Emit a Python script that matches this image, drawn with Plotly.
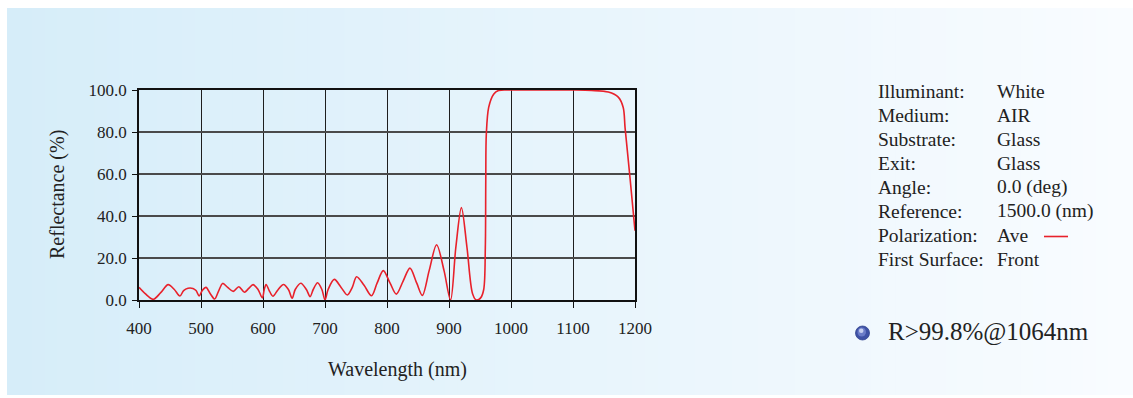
import plotly.graph_objects as go

# ---------------- data ----------------
wavelength = [400, 410, 423, 435, 447, 457, 466, 472, 479, 487, 492, 497, 502, 508, 515, 522,
              528, 535, 543, 552, 561, 570, 577, 584, 592, 599, 602, 605, 610, 616, 624, 633,
              641, 647, 652, 661, 670, 676, 681, 688, 695, 700, 705, 715, 726, 736, 744, 751,
              763, 775, 784, 794, 805, 815, 826, 837, 848, 857, 868, 880, 892, 902.5, 911, 920,
              929, 938, 944, 951, 956, 958.6, 959.3, 960.2, 964, 972, 980, 1000, 1050, 1100,
              1130, 1157, 1173, 1181, 1184, 1192, 1200]
reflectance = [6.0, 3.0, 0.3, 3.5, 7.3, 5.0, 1.9, 4.5, 5.6, 5.5, 4.5, 1.9, 4.5, 6.0, 3.0, 0.5,
               4.0, 7.9, 6.0, 4.1, 6.3, 3.7, 5.5, 7.3, 5.0, 1.0, 5.0, 7.4, 4.5, 1.8, 4.8, 7.4,
               5.0, 0.8, 5.0, 8.0, 5.0, 1.6, 5.0, 8.2, 5.0, 0.0, 5.0, 9.8, 6.0, 2.4, 6.0, 11.1,
               7.0, 2.0, 8.0, 14.0, 8.0, 2.8, 9.0, 15.2, 8.0, 2.2, 14.0, 26.3, 14.0, 0.0, 25.0, 44.0,
               25.0, 3.0, 0.0, 1.0, 5.0, 25.0, 57.0, 79.0, 91.7, 98.0, 99.8, 100.0, 100.0, 100.0,
               99.8, 99.0, 96.6, 91.7, 82.0, 58.0, 33.0]

x_ticks = [400, 500, 600, 700, 800, 900, 1000, 1100, 1200]
y_ticks = [0, 20, 40, 60, 80, 100]

info_labels = ["Illuminant:", "Medium:", "Substrate:", "Exit:", "Angle:",
               "Reference:", "Polarization:", "First Surface:"]
info_values = ["White", "AIR", "Glass", "Glass", "0.0 (deg)", "1500.0 (nm)", "Ave", "Front"]
note_text = "R>99.8%@1064nm"

# ---------------- layout geometry ----------------
W, H = 1133, 398
PL, PR, PT, PB = 139, 635, 90, 300  # plot area in px


def px(x):
    return (x - PL) / (PR - PL)


def py(y):
    return (PB - y) / (PB - PT)


FONT = "Liberation Serif, Times New Roman, serif"
TXT = "#222222"
RED = "#e8212b"

fig = go.Figure()
fig.add_trace(go.Scatter(
    x=wavelength, y=reflectance, mode="lines",
    line=dict(color=RED, width=1.6, shape="spline", smoothing=0.9),
    cliponaxis=False, showlegend=False, hoverinfo="skip"))

shapes = []
# gradient background panel (vertical strips)
x0, x1, y0, y1 = 7, W, 8, 395
c0 = (214, 237, 249)
c1 = (249, 252, 255)
n = 90
for i in range(n):
    t = i / (n - 1)
    col = tuple(round(c0[k] + (c1[k] - c0[k]) * t) for k in range(3))
    xa = x0 + (x1 - x0) * i / n
    xb = x0 + (x1 - x0) * (i + 1) / n + 0.8
    shapes.append(dict(type="rect", xref="paper", yref="paper",
                       x0=px(xa), x1=px(min(xb, W)), y0=py(y1), y1=py(y0),
                       fillcolor="rgb(%d,%d,%d)" % col, line=dict(width=0), layer="below"))

# legend dash after "Ave"
shapes.append(dict(type="line", xref="paper", yref="paper",
                   x0=px(1044), x1=px(1068), y0=py(236.5), y1=py(236.5),
                   line=dict(color=RED, width=1.6)))
# bullet sphere (layered circles for a shaded look)
shapes.append(dict(type="circle", xref="paper", yref="paper",
                   x0=px(855.5), x1=px(869.5), y0=py(340), y1=py(326),
                   fillcolor="#3f52a6", line=dict(color="#33458f", width=0.8)))
shapes.append(dict(type="circle", xref="paper", yref="paper",
                   x0=px(857.5), x1=px(866), y0=py(336.5), y1=py(327.5),
                   fillcolor="#6b7cc8", line=dict(width=0)))
shapes.append(dict(type="circle", xref="paper", yref="paper",
                   x0=px(859), x1=px(863.5), y0=py(333), y1=py(328.5),
                   fillcolor="#c7cff0", line=dict(width=0)))

annotations = []
# axis titles
annotations.append(dict(text="Wavelength (nm)", xref="paper", yref="paper",
                        x=px(397), y=py(369), showarrow=False,
                        xanchor="center", yanchor="middle",
                        font=dict(family=FONT, size=20, color=TXT)))
annotations.append(dict(text="Reflectance (%)", xref="paper", yref="paper",
                        x=px(57), y=py(195), showarrow=False, textangle=-90,
                        xanchor="center", yanchor="middle",
                        font=dict(family=FONT, size=20, color=TXT)))
# info block
for i, (lab, val) in enumerate(zip(info_labels, info_values)):
    yc = 91 + i * 24.0
    annotations.append(dict(text=lab, xref="paper", yref="paper", x=px(876), y=py(yc),
                            showarrow=False, xanchor="left", yanchor="middle",
                            font=dict(family=FONT, size=19.5, color=TXT)))
    annotations.append(dict(text=val, xref="paper", yref="paper", x=px(995), y=py(yc),
                            showarrow=False, xanchor="left", yanchor="middle",
                            font=dict(family=FONT, size=19.5, color=TXT)))
annotations.append(dict(text=note_text, xref="paper", yref="paper", x=px(886), y=py(332),
                        showarrow=False, xanchor="left", yanchor="middle",
                        font=dict(family=FONT, size=25, color=TXT)))

fig.update_layout(
    width=W, height=H,
    margin=dict(l=PL, r=W - PR, t=PT, b=H - PB, pad=0),
    paper_bgcolor="white", plot_bgcolor="rgba(0,0,0,0)",
    shapes=shapes, annotations=annotations, showlegend=False,
    font=dict(family=FONT, color=TXT),
)
fig.update_xaxes(
    range=[400, 1200], tickvals=x_ticks, ticktext=[str(v) for v in x_ticks],
    showgrid=True, gridcolor="#1e1e1e", gridwidth=1.3,
    showline=True, linecolor="#111111", linewidth=1.6, mirror=True,
    ticks="outside", ticklen=6, tickwidth=1.3, tickcolor="#111111",
    tickfont=dict(family=FONT, size=17, color=TXT), ticklabelstandoff=6,
    zeroline=False)
fig.update_yaxes(
    range=[0, 100], tickvals=y_ticks, ticktext=["%.1f" % v for v in y_ticks],
    showgrid=True, gridcolor="#4a4a4a", gridwidth=1.8,
    showline=True, linecolor="#111111", linewidth=1.6, mirror=True,
    ticks="outside", ticklen=5, tickwidth=1.3, tickcolor="#111111",
    tickfont=dict(family=FONT, size=17, color=TXT), ticklabelstandoff=2,
    zeroline=False)

fig.write_html("out.html")
